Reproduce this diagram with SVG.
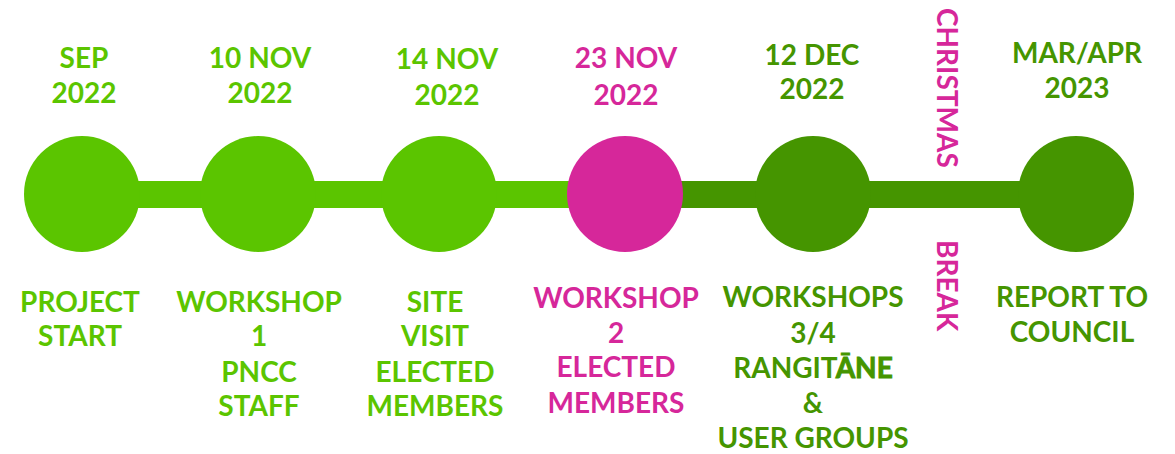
<svg xmlns="http://www.w3.org/2000/svg" width="1175" height="454" viewBox="0 0 1175 454">
<style>
text{font-family:Lato,"Open Sans","Liberation Sans",sans-serif;font-weight:bold;font-size:28px;text-anchor:middle}
.lg{fill:#5BC500}
.pk{fill:#D6279A}
.dg{fill:#459500}
.v{text-anchor:start}
.hv{stroke:#459500;stroke-width:0.9}
</style>
<rect width="1175" height="454" fill="#ffffff"/>
<g id="connectors">
<rect x="82" y="181" width="543" height="27" class="lg"/>
<rect x="625" y="181" width="451" height="27" class="dg"/>
</g>
<g id="n1">
<circle cx="82" cy="194" r="58" class="lg"/>
<text class="lg" x="84" y="68">SEP</text>
<text class="lg" x="84" y="103">2022</text>
<text class="lg" x="80" y="312">PROJECT</text>
<text class="lg" x="80" y="346">START</text>
</g>
<g id="n2">
<circle cx="258" cy="194" r="58" class="lg"/>
<text class="lg" x="260" y="68">10 NOV</text>
<text class="lg" x="260" y="103">2022</text>
<text class="lg" x="259" y="312">WORKSHOP</text>
<text class="lg" x="259" y="346">1</text>
<text class="lg" x="259" y="382">PNCC</text>
<text class="lg" x="259" y="416">STAFF</text>
</g>
<g id="n3">
<circle cx="439" cy="194" r="58" class="lg"/>
<text class="lg" x="447" y="69">14 NOV</text>
<text class="lg" x="447" y="105">2022</text>
<text class="lg" x="435" y="312">SITE</text>
<text class="lg" x="435" y="346">VISIT</text>
<text class="lg" x="435" y="382">ELECTED</text>
<text class="lg" x="435" y="416">MEMBERS</text>
</g>
<g id="n4">
<circle cx="625" cy="194" r="58" class="pk"/>
<text class="pk" x="626" y="68">23 NOV</text>
<text class="pk" x="626" y="105">2022</text>
<text class="pk" x="616" y="308">WORKSHOP</text>
<text class="pk" x="616" y="343">2</text>
<text class="pk" x="616" y="377">ELECTED</text>
<text class="pk" x="616" y="413">MEMBERS</text>
</g>
<g id="n5">
<circle cx="813" cy="194" r="58" class="dg"/>
<text class="dg" x="812" y="65">12 DEC</text>
<text class="dg" x="812" y="99">2022</text>
<text class="dg" x="813" y="307">WORKSHOPS</text>
<text class="dg" x="813" y="343">3/4</text>
<text class="dg" x="813" y="378">RANGIT<tspan class="hv">ĀNE</tspan></text>
<text class="dg" x="813" y="413">&amp;</text>
<text class="dg" x="813" y="448">USER GROUPS</text>
</g>
<g id="n6">
<circle cx="1076" cy="194" r="58" class="dg"/>
<text class="dg" x="1077" y="63">MAR/APR</text>
<text class="dg" x="1077" y="98">2023</text>
<text class="dg" x="1072" y="307">REPORT TO</text>
<text class="dg" x="1072" y="342">COUNCIL</text>
</g>
<g id="break">
<text class="pk v" transform="translate(937,8) rotate(90)">CHRISTMAS</text>
<text class="pk v" transform="translate(937,240) rotate(90)">BREAK</text>
</g>
</svg>
